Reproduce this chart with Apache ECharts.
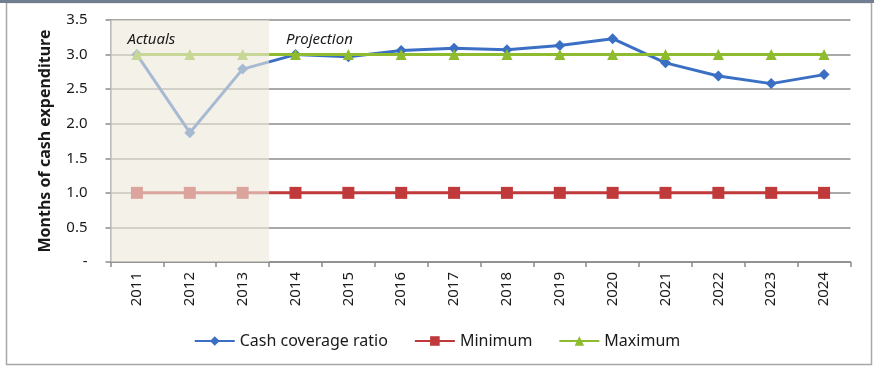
<!DOCTYPE html>
<html>
<head>
<meta charset="utf-8">
<script src="https://cdn.jsdelivr.net/npm/echarts@6/dist/echarts.min.js"></script>
<style>
  html, body { margin: 0; padding: 0; background: #ffffff; }
  #chart { width: 874px; height: 368px; }
</style>
</head>
<body>
<div id="chart"></div>
<script>
// Fiscal years on the category axis
const years = ['2011', '2012', '2013', '2014', '2015', '2016', '2017',
               '2018', '2019', '2020', '2021', '2022', '2023', '2024'];

// Months of cash expenditure covered by cash on hand
const cashCoverage = [3.0, 1.87, 2.79, 3.0, 2.97, 3.06, 3.09,
                      3.07, 3.13, 3.23, 2.88, 2.69, 2.58, 2.71];

// Policy band
const minimumRatio = [1, 1, 1, 1, 1, 1, 1, 1, 1, 1, 1, 1, 1, 1];
const maximumRatio = [3, 3, 3, 3, 3, 3, 3, 3, 3, 3, 3, 3, 3, 3];

// Period split: the first three years are actuals, the rest projections
const actualYearCount = 3;
const periodLabels = ['Actuals', 'Projection'];

const font = '"Noto Sans", "Open Sans", sans-serif';

const chart = echarts.init(document.getElementById('chart'), null, { renderer: 'canvas' });

const periodLabel = text => ({
  show: true,
  position: 'insideTopLeft',
  formatter: text,
  offset: [12, 7],
  fontStyle: 'italic',
  fontSize: 15,
  color: '#1a1a1a',
  fontFamily: font
});

chart.setOption({
  animation: false,
  backgroundColor: '#ffffff',
  textStyle: { fontFamily: font, color: '#1a1a1a' },
  graphic: [
    {
      type: 'rect', z: 100, silent: true,
      shape: { x: 6.5, y: 2.5, width: 865, height: 362 },
      style: { fill: 'none', stroke: '#a8a8a8', lineWidth: 1.5 }
    },
    {
      type: 'rect', z: 101, silent: true,
      shape: { x: 0, y: 0, width: 874, height: 3 },
      style: { fill: '#6f7f8f' }
    }
  ],
  grid: { left: 110.5, right: 23.5, top: 20, bottom: 106 },
  legend: {
    bottom: 14,
    left: 'center',
    itemWidth: 40,
    itemHeight: 12,
    itemGap: 26,
    textStyle: { fontFamily: font, fontSize: 16, color: '#1a1a1a' },
    data: ['Cash coverage ratio', 'Minimum', 'Maximum']
  },
  xAxis: [
    {
      type: 'category',
      data: years,
      boundaryGap: true,
      axisLine: { lineStyle: { color: '#8a8a8a', width: 1.5 } },
      axisTick: { show: true, length: 5, lineStyle: { color: '#8a8a8a', width: 1.5 } },
      axisLabel: { rotate: 90, margin: 10, fontSize: 15, color: '#1a1a1a', fontFamily: font }
    },
    {
      // Year-band scale used to place the period shading on band edges
      type: 'value',
      min: 0,
      max: years.length,
      show: false
    }
  ],
  yAxis: {
    type: 'value',
    min: 0,
    max: 3.5,
    interval: 0.5,
    name: 'Months of cash expenditure',
    nameLocation: 'middle',
    nameGap: 57,
    nameTextStyle: { fontSize: 16, fontWeight: 'bold', color: '#1a1a1a', fontFamily: font },
    axisLine: { show: true, lineStyle: { color: '#8a8a8a', width: 1.5 } },
    axisTick: { show: true, length: 5, lineStyle: { color: '#8a8a8a', width: 1.5 } },
    axisLabel: {
      margin: 23,
      fontSize: 15,
      color: '#1a1a1a',
      fontFamily: font,
      formatter: v => (v === 0 ? '-' : v.toFixed(1))
    },
    splitLine: { show: true, lineStyle: { color: '#8c8c8c', width: 1.5 } }
  },
  series: [
    {
      name: 'Cash coverage ratio',
      type: 'line',
      data: cashCoverage,
      symbol: 'diamond',
      symbolSize: 11,
      lineStyle: { color: '#3a6fc4', width: 3 },
      itemStyle: { color: '#3a6fc4' },
      z: 3
    },
    {
      name: 'Minimum',
      type: 'line',
      data: minimumRatio,
      symbol: 'rect',
      symbolSize: 12,
      lineStyle: { color: '#c0393b', width: 3 },
      itemStyle: { color: '#c0393b' },
      z: 4
    },
    {
      name: 'Maximum',
      type: 'line',
      data: maximumRatio,
      symbol: 'triangle',
      symbolSize: 11,
      lineStyle: { color: '#8fbc2e', width: 3 },
      itemStyle: { color: '#8fbc2e' },
      z: 5
    },
    {
      // Period shading and captions, drawn over the lines
      name: 'periods',
      type: 'line',
      xAxisIndex: 1,
      data: [],
      silent: true,
      markArea: {
        silent: true,
        z: 20,
        data: [
          [
            {
              xAxis: 0,
              itemStyle: { color: 'rgba(236, 232, 218, 0.62)' },
              label: periodLabel(periodLabels[0])
            },
            { xAxis: actualYearCount }
          ],
          [
            {
              xAxis: actualYearCount,
              itemStyle: { color: 'rgba(255, 255, 255, 0)' },
              label: periodLabel(periodLabels[1])
            },
            { xAxis: years.length }
          ]
        ]
      }
    }
  ]
});
</script>
</body>
</html>
